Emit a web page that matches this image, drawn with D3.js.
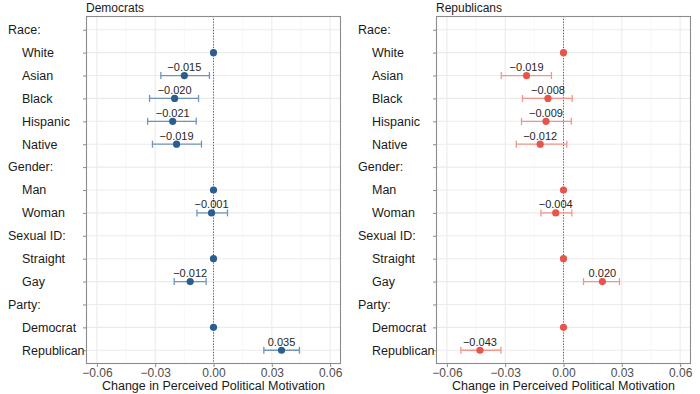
<!DOCTYPE html>
<html><head><meta charset="utf-8">
<script src="https://cdn.jsdelivr.net/npm/d3@7"></script>
<style>body{margin:0;background:#fff}svg{display:block}text{font-family:"Liberation Sans",Arial,sans-serif}</style>
</head><body><svg id="c" width="700" height="394"></svg>
<script>
const rows = ["Race:","White","Asian","Black","Hispanic","Native","Gender:","Man","Woman","Sexual ID:","Straight","Gay","Party:","Democrat","Republican"];
const headers = ["Race:","Gender:","Sexual ID:","Party:"];
const terms = ["White","Asian","Black","Hispanic","Native","Man","Woman","Straight","Gay","Democrat","Republican"];
const demEst = [0,-0.015,-0.020,-0.021,-0.019,0,-0.001,0,-0.012,0,0.035];
const demLo  = [null,-0.0271,-0.0329,-0.0339,-0.0314,null,-0.0085,null,-0.0202,null,0.0259];
const demHi  = [null,-0.0021,-0.0077,-0.0089,-0.0062,null,0.0072,null,-0.0038,null,0.0442];
const repEst = [0,-0.019,-0.008,-0.009,-0.012,0,-0.004,0,0.020,0,-0.043];
const repLo  = [null,-0.0320,-0.0211,-0.0216,-0.0243,null,-0.0116,null,0.0103,null,-0.0528];
const repHi  = [null,-0.0062,0.0045,0.0040,0.0017,null,0.0043,null,0.0288,null,-0.0322];
const xTicks = [-0.06,-0.03,0,0.03,0.06];
const xMinor = [-0.045,-0.015,0.015,0.045];
const panels = [
  {title:"Democrats", est:demEst, lo:demLo, hi:demHi, pt:"#2c5d8f", bar:"#6f95bd", left:86},
  {title:"Republicans", est:repEst, lo:repLo, hi:repHi, pt:"#e8544a", bar:"#f2958c", left:436}
];
const svg = d3.select("#c");
const W = 255, pTop = 16, pBot = 364;
const y = d3.scalePoint().domain(rows).range([pTop,pBot]).padding(0.6);
const fmt = v => d3.format(".3f")(v).replace("-","\u2212");

panels.forEach(p => {
  const x = d3.scaleLinear().domain([-0.0656,0.0656]).range([p.left,p.left+W]);
  const g = svg.append("g");
  g.selectAll(".mn").data(xMinor).join("line")
    .attr("x1",d=>x(d)).attr("x2",d=>x(d)).attr("y1",pTop).attr("y2",pBot)
    .attr("stroke","#f2f2f2").attr("stroke-width",0.6);
  g.selectAll(".mj").data(xTicks).join("line")
    .attr("x1",d=>x(d)).attr("x2",d=>x(d)).attr("y1",pTop).attr("y2",pBot)
    .attr("stroke","#ebebeb").attr("stroke-width",1.1);
  g.selectAll(".hy").data(rows).join("line")
    .attr("x1",p.left).attr("x2",p.left+W).attr("y1",d=>y(d)).attr("y2",d=>y(d))
    .attr("stroke","#ebebeb").attr("stroke-width",1.1);
  g.append("line").attr("x1",x(0)).attr("x2",x(0)).attr("y1",pTop).attr("y2",pBot)
    .attr("stroke","#222").attr("stroke-width",0.7).attr("stroke-dasharray","1.2,1.6");
  g.append("rect").attr("x",p.left+0.5).attr("y",pTop+0.5).attr("width",W-1).attr("height",pBot-pTop-1)
    .attr("fill","none").attr("stroke","#8c8c8c").attr("stroke-width",1.1);
  const xa = g.append("g").attr("transform",`translate(0,${pBot})`)
    .call(d3.axisBottom(x).tickValues(xTicks).tickSize(3).tickPadding(1).tickFormat(d=>d3.format(".2f")(d).replace("-","\u2212")));
  xa.select(".domain").remove();
  xa.selectAll("line").attr("stroke","#8c8c8c");
  xa.selectAll("text").attr("font-size",12).attr("fill","#4d4d4d").attr("font-family","Liberation Sans, Arial, sans-serif");
  const ya = g.append("g").attr("transform",`translate(${p.left},0)`)
    .call(d3.axisLeft(y).tickSize(3).tickFormat(""));
  ya.select(".domain").remove();
  ya.selectAll("line").attr("stroke","#8c8c8c");
  g.selectAll(".yl").data(rows).join("text")
    .attr("x",d=>headers.includes(d)? p.left-78 : p.left-64)
    .attr("y",d=>y(d)).attr("dy","0.35em")
    .attr("font-size",12.5).attr("fill","#1a1a1a").text(d=>d);
  g.append("text").attr("x",p.left).attr("y",11.5).attr("font-size",12).attr("fill","#1a1a1a").text(p.title);
  g.append("text").attr("x",p.left+W/2).attr("y",389.5).attr("text-anchor","middle")
    .attr("font-size",12.5).attr("fill","#1a1a1a").text("Change in Perceived Political Motivation");
  const data = terms.map((t,i)=>({t, e:p.est[i], lo:p.lo[i], hi:p.hi[i]}));
  const ci = data.filter(d=>d.lo!==null);
  g.selectAll(".eb").data(ci).join("line")
    .attr("x1",d=>x(d.lo)).attr("x2",d=>x(d.hi)).attr("y1",d=>y(d.t)).attr("y2",d=>y(d.t))
    .attr("stroke",p.bar).attr("stroke-width",1.3);
  ["lo","hi"].forEach(k=>{
    g.selectAll(".cap"+k).data(ci).join("line")
      .attr("x1",d=>x(d[k])).attr("x2",d=>x(d[k])).attr("y1",d=>y(d.t)-3.5).attr("y2",d=>y(d.t)+3.5)
      .attr("stroke",p.bar).attr("stroke-width",1.3);
  });
  g.selectAll(".pt").data(data).join("circle")
    .attr("cx",d=>x(d.e)).attr("cy",d=>y(d.t)).attr("r",3.6).attr("fill",p.pt);
  g.selectAll(".lb").data(ci).join("text")
    .attr("x",d=>x(d.e)).attr("y",d=>y(d.t)-4.5).attr("text-anchor","middle")
    .attr("font-size",11).attr("fill","#262626").text(d=>fmt(d.e));
});
</script></body></html>
